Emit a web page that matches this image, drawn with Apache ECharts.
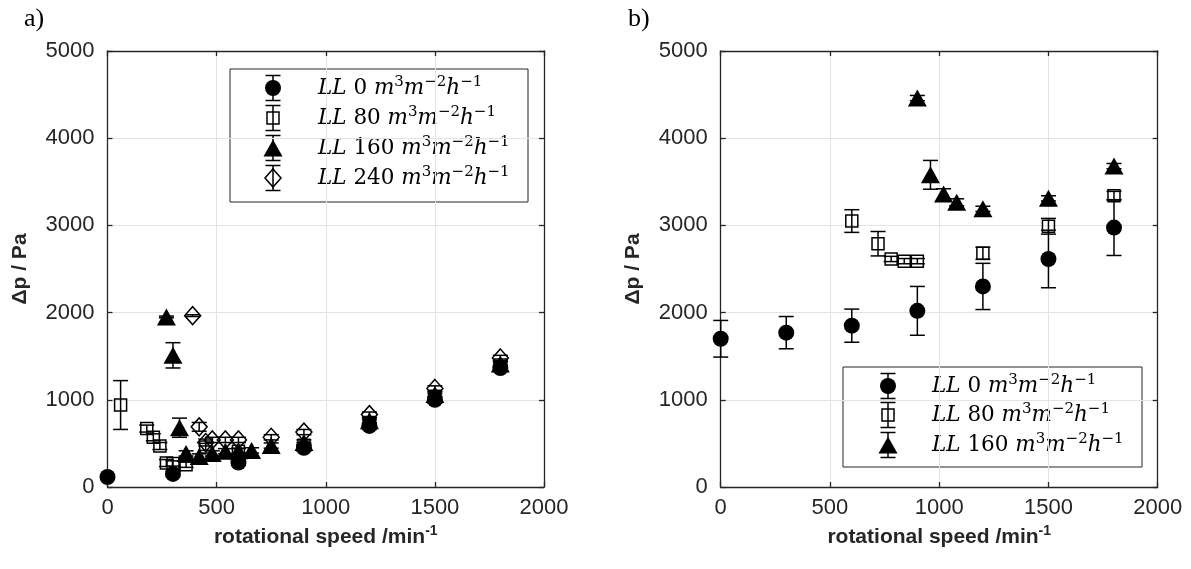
<!DOCTYPE html>
<html>
<head>
<meta charset="utf-8">
<script src="https://cdn.jsdelivr.net/npm/echarts@6/dist/echarts.min.js"></script>
<style>html,body{margin:0;padding:0;background:#fff}#c{width:1191px;height:569px}</style>
</head>
<body>
<div id="c"></div>
<script>
// ---------- data: panel a ----------
const a_LL0_x  = [0, 300, 600, 900, 1200, 1500, 1800];
const a_LL0_y  = [115, 150, 280, 450, 700, 1000, 1365];
const a_LL0_e  = [20, 30, 30, 40, 40, 40, 40];

const a_LL80_x = [60, 180, 210, 240, 270, 300, 360, 450, 600, 900, 1200, 1500, 1800];
const a_LL80_y = [940, 670, 570, 470, 275, 270, 255, 460, 410, 480, 740, 1040, 1400];
const a_LL80_e = [280, 40, 40, 40, 40, 30, 30, 40, 30, 30, 30, 30, 30];

const a_LL160_x = [270, 300, 330, 360, 420, 480, 540, 600, 660, 750, 900, 1200, 1500, 1800];
const a_LL160_y = [1950, 1510, 680, 385, 350, 385, 410, 415, 420, 475, 510, 760, 1060, 1410];
const a_LL160_e = [10, 145, 110, 30, 30, 30, 30, 30, 30, 30, 30, 30, 30, 30];

const a_LL240_x = [390, 420, 450, 480, 540, 600, 750, 900, 1200, 1500, 1800];
const a_LL240_y = [1965, 690, 510, 540, 540, 540, 570, 630, 830, 1130, 1480];
const a_LL240_e = [10, 50, 40, 30, 30, 30, 30, 30, 30, 30, 30];

// ---------- data: panel b ----------
const b_LL0_x  = [0, 300, 600, 900, 1200, 1500, 1800];
const b_LL0_y  = [1700, 1770, 1850, 2020, 2300, 2615, 2975];
const b_LL0_e  = [210, 185, 190, 280, 265, 330, 320];

const b_LL80_x = [600, 720, 780, 840, 900, 1200, 1500, 1800];
const b_LL80_y = [3050, 2790, 2615, 2590, 2590, 2680, 2990, 3340];
const b_LL80_e = [130, 140, 30, 30, 30, 70, 90, 50];

const b_LL160_x = [900, 960, 1020, 1080, 1200, 1500, 1800];
const b_LL160_y = [4460, 3580, 3360, 3265, 3190, 3310, 3680];
const b_LL160_e = [30, 165, 60, 40, 30, 30, 30];

// ---------- axis ticks / labels ----------
const xTicks = {min: 0, max: 2000, interval: 500};
const yTicks = {min: 0, max: 5000, interval: 1000};
const legendLabels = ['0', '80', '160', '240'];
const xTitle = 'rotational speed /min';
const yTitle = '\u0394p / Pa';

// ---------- helpers ----------
const AX = '#262626';
const zip = (xs, ys, es) => xs.map((x, i) => [x, ys[i], es[i]]);
const plain = v => String(v);

function errRender(params, api) {
  const x = api.value(0), y = api.value(1), e = api.value(2);
  const t = api.coord([x, y + e]);
  const b = api.coord([x, y - e]);
  const w = 7.5;
  const st = {stroke: '#000', lineWidth: 1.5};
  return {type: 'group', children: [
    {type: 'line', shape: {x1: t[0], y1: t[1], x2: b[0], y2: b[1]}, style: st},
    {type: 'line', shape: {x1: t[0] - w, y1: t[1], x2: t[0] + w, y2: t[1]}, style: st},
    {type: 'line', shape: {x1: b[0] - w, y1: b[1], x2: b[0] + w, y2: b[1]}, style: st}
  ]};
}

const markers = [
  {symbol: 'circle', size: 16, item: {color: '#000', opacity: 1}},
  {symbol: 'rect', size: 12, item: {color: 'rgba(0,0,0,0)', borderColor: '#000', borderWidth: 1.5, opacity: 1}},
  {symbol: 'triangle', size: [19, 17], item: {color: '#000', opacity: 1}},
  {symbol: 'diamond', size: [16, 18], item: {color: 'rgba(0,0,0,0)', borderColor: '#000', borderWidth: 1.5, opacity: 1}}
];

const series = [];
function addSet(idx, axisIdx, xs, ys, es, z) {
  const d = zip(xs, ys, es);
  series.push({
    type: 'custom', xAxisIndex: axisIdx, yAxisIndex: axisIdx, renderItem: errRender,
    data: d, z: z, silent: true, animation: false, clip: false
  });
  series.push({
    type: 'scatter', xAxisIndex: axisIdx, yAxisIndex: axisIdx,
    data: d.map(p => [p[0], p[1]]), symbol: markers[idx].symbol, symbolSize: markers[idx].size,
    itemStyle: markers[idx].item, z: z + 0.5, silent: true, animation: false, emphasis: {disabled: true}
  });
}
addSet(0, 0, a_LL0_x, a_LL0_y, a_LL0_e, 10);
addSet(1, 0, a_LL80_x, a_LL80_y, a_LL80_e, 11);
addSet(2, 0, a_LL160_x, a_LL160_y, a_LL160_e, 12);
addSet(3, 0, a_LL240_x, a_LL240_y, a_LL240_e, 13);
addSet(0, 2, b_LL0_x, b_LL0_y, b_LL0_e, 10);
addSet(1, 2, b_LL80_x, b_LL80_y, b_LL80_e, 11);
addSet(2, 2, b_LL160_x, b_LL160_y, b_LL160_e, 12);

const lineSt = {color: AX, width: 1.3};
function xAxisMain(g) {
  return {gridIndex: g, type: 'value', position: 'bottom', ...xTicks,
    axisLine: {show: true, onZero: false, lineStyle: lineSt},
    axisTick: {show: true, inside: true, length: 5, lineStyle: lineSt},
    splitLine: {show: true, lineStyle: {color: '#e3e3e3', width: 1}},
    axisLabel: {fontSize: 22, color: AX, fontFamily: 'Liberation Sans', margin: 10, formatter: plain},
    name: '{b|' + xTitle + '}{s|-1}', nameLocation: 'middle', nameGap: 20,
    nameTextStyle: {rich: {
      b: {fontSize: 21, fontWeight: 'bold', color: AX, fontFamily: 'Liberation Sans', lineHeight: 26},
      s: {fontSize: 14, fontWeight: 'bold', color: AX, fontFamily: 'Liberation Sans', verticalAlign: 'top', lineHeight: 14}
    }}
  };
}
function xAxisTop(g) {
  return {gridIndex: g, type: 'value', position: 'top', ...xTicks,
    axisLine: {show: true, onZero: false, lineStyle: lineSt},
    axisTick: {show: true, inside: true, length: 5, lineStyle: lineSt},
    splitLine: {show: false}, axisLabel: {show: false}};
}
function yAxisMain(g) {
  return {gridIndex: g, type: 'value', position: 'left', ...yTicks,
    axisLine: {show: true, onZero: false, lineStyle: lineSt},
    axisTick: {show: true, inside: true, length: 5, lineStyle: lineSt},
    splitLine: {show: true, lineStyle: {color: '#e3e3e3', width: 1}},
    axisLabel: {fontSize: 22, color: AX, fontFamily: 'Liberation Sans', margin: 13, formatter: plain},
    name: yTitle, nameLocation: 'middle', nameGap: 77, nameRotate: 90,
    nameTextStyle: {fontSize: 21, fontWeight: 'bold', color: AX, fontFamily: 'Liberation Sans'}
  };
}
function yAxisRight(g) {
  return {gridIndex: g, type: 'value', position: 'right', ...yTicks,
    axisLine: {show: true, onZero: false, lineStyle: lineSt},
    axisTick: {show: true, inside: true, length: 5, lineStyle: lineSt},
    splitLine: {show: false}, axisLabel: {show: false}};
}

// ---------- legend (graphic) ----------
const SERIF = 'DejaVu Serif';
function legendText(n) {
  return '{i|LL }{n|' + n + ' }{i|m}{s|3}{i|m}{s|\u22122}{i|h}{s|\u22121}';
}
const richLeg = {
  i: {fontFamily: SERIF, fontStyle: 'italic', fontSize: 21.5, lineHeight: 27, fill: '#000'},
  n: {fontFamily: SERIF, fontSize: 21.5, lineHeight: 27, fill: '#000'},
  s: {fontFamily: SERIF, fontSize: 15, lineHeight: 15, verticalAlign: 'top', fill: '#000'}
};
function legendSymbol(idx, cx, cy) {
  const st = {stroke: '#000', lineWidth: 1.5};
  const h = 12.5, w = 7.5;
  const ch = [
    {type: 'line', shape: {x1: cx, y1: cy - h, x2: cx, y2: cy + h}, style: st},
    {type: 'line', shape: {x1: cx - w, y1: cy - h, x2: cx + w, y2: cy - h}, style: st},
    {type: 'line', shape: {x1: cx - w, y1: cy + h, x2: cx + w, y2: cy + h}, style: st}
  ];
  if (idx === 0) ch.push({type: 'circle', shape: {cx: cx, cy: cy, r: 8}, style: {fill: '#000'}});
  if (idx === 1) ch.push({type: 'rect', shape: {x: cx - 6, y: cy - 6, width: 12, height: 12}, style: {fill: 'none', stroke: '#000', lineWidth: 1.5}});
  if (idx === 2) ch.push({type: 'polygon', shape: {points: [[cx, cy - 8.5], [cx + 9.5, cy + 8.5], [cx - 9.5, cy + 8.5]]}, style: {fill: '#000'}});
  if (idx === 3) ch.push({type: 'polygon', shape: {points: [[cx, cy - 9], [cx + 8, cy], [cx, cy + 9], [cx - 8, cy]]}, style: {fill: 'none', stroke: '#000', lineWidth: 1.5}});
  return ch;
}
function buildLegend(box, symX, txtX, rows, n) {
  const ch = [{type: 'rect', shape: box, style: {fill: '#fff', stroke: AX, lineWidth: 1}}];
  for (let k = 0; k < n; k++) {
    ch.push(...legendSymbol(k, symX, rows[k]));
    ch.push({type: 'text', x: txtX, y: rows[k], style: {text: legendText(legendLabels[k]), rich: richLeg, verticalAlign: 'middle', align: 'left'}});
  }
  return {type: 'group', z: 100, children: ch};
}

const graphic = [
  buildLegend({x: 230, y: 69, width: 298, height: 133}, 273, 318, [88, 118, 148, 178], 4),
  buildLegend({x: 843, y: 367, width: 299, height: 100}, 888, 932, [386, 415, 445], 3),
  {type: 'text', left: 24, top: 6, style: {text: 'a)', fontFamily: 'Liberation Serif', fontSize: 26, fill: '#000'}},
  {type: 'text', left: 628, top: 6, style: {text: 'b)', fontFamily: 'Liberation Serif', fontSize: 26, fill: '#000'}}
];

const chart = echarts.init(document.getElementById('c'), null, {renderer: 'canvas'});
chart.setOption({
  animation: false,
  backgroundColor: '#fff',
  grid: [
    {left: 107.5, top: 51, width: 436.5, height: 436},
    {left: 720.7, top: 51, width: 437, height: 436}
  ],
  xAxis: [xAxisMain(0), xAxisTop(0), xAxisMain(1), xAxisTop(1)],
  yAxis: [yAxisMain(0), yAxisRight(0), yAxisMain(1), yAxisRight(1)],
  series: series,
  graphic: graphic
});
</script>
</body>
</html>
